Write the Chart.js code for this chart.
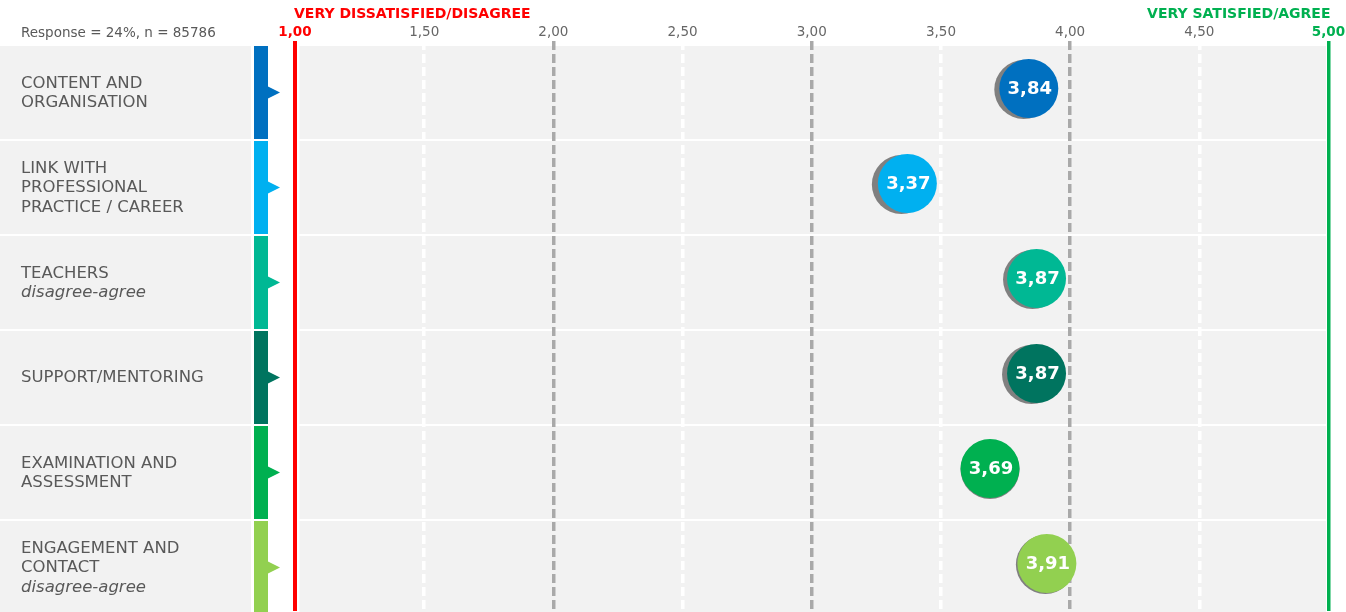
<!DOCTYPE html>
<html><head><meta charset="utf-8">
<script src="https://cdn.jsdelivr.net/npm/chart.js@4/dist/chart.umd.min.js"></script>
<style>html,body{margin:0;padding:0;background:#fff;overflow:hidden}#wrap{width:1346px;height:612px;position:relative}</style>
</head><body><div id="wrap"><canvas id="c" width="1346" height="612"></canvas></div>
<script>
// ---- data ----
const categories = ['CONTENT AND ORGANISATION', 'LINK WITH PROFESSIONAL PRACTICE / CAREER', 'TEACHERS', 'SUPPORT/MENTORING', 'EXAMINATION AND ASSESSMENT', 'ENGAGEMENT AND CONTACT'];
const labelLines = [['CONTENT AND', 'ORGANISATION'], ['LINK WITH', 'PROFESSIONAL', 'PRACTICE / CAREER'], ['TEACHERS'], ['SUPPORT/MENTORING'], ['EXAMINATION AND', 'ASSESSMENT'], ['ENGAGEMENT AND', 'CONTACT']];
const subLabels = ['', '', 'disagree-agree', '', '', 'disagree-agree'];
const scores = [3.84, 3.37, 3.87, 3.87, 3.69, 3.91];
const scaleMin = 1, scaleMax = 5, scaleStep = 0.5;
const leftTitle = 'VERY DISSATISFIED/DISAGREE';
const rightTitle = 'VERY SATISFIED/AGREE';
const responseNote = 'Response = 24%, n = 85786';

// ---- styles ----
const rowColors = ['#0070c0', '#00b0f0', '#00b894', '#00745f', '#00b050', '#92d050'];
const shadowDx = [-5, -6, -4, -5, 0, -1.5];
const FONT = "'DejaVu Sans', Verdana, sans-serif";
const TEXT = '#595959';
const RED = '#ff0000', GREEN = '#00b050';
const fmt = v => v.toFixed(2).replace('.', ',');

const decor = {
  id: 'decor',
  beforeDraw(chart) {
    const {ctx, scales: {x, y}} = chart;
    ctx.save();
    categories.forEach((c, i) => {
      const cy = y.getPixelForValue(i) + 4;
      const top = cy - 46.5, h = 93;
      ctx.fillStyle = '#f2f2f2';
      ctx.fillRect(0, top, 251, h);
      ctx.fillRect(x.left + 4.5, top, (x.right - 2.5) - (x.left + 4.5), h);
      ctx.fillStyle = rowColors[i];
      ctx.fillRect(254, top, 14, h);
      ctx.beginPath();
      ctx.moveTo(268, cy - 6);
      ctx.lineTo(280, cy);
      ctx.lineTo(268, cy + 6);
      ctx.closePath();
      ctx.fill();
      // labels
      const lines = labelLines[i].map(t => ({t, it: false}));
      if (subLabels[i]) lines.push({t: subLabels[i], it: true});
      const lh = 19.5;
      let ly = cy + 0.5 - (lines.length - 1) * lh / 2;
      ctx.fillStyle = TEXT;
      ctx.textAlign = 'left';
      ctx.textBaseline = 'middle';
      lines.forEach(l => {
        ctx.font = (l.it ? 'italic ' : '') + '16.5px ' + FONT;
        ctx.fillText(l.t, 21, ly);
        ly += lh;
      });
    });
    // titles
    ctx.font = 'bold 14px ' + FONT;
    ctx.textBaseline = 'middle';
    ctx.fillStyle = RED;
    ctx.textAlign = 'left';
    ctx.fillText(leftTitle, x.getPixelForValue(scaleMin) - 1, 14);
    ctx.fillStyle = GREEN;
    ctx.textAlign = 'right';
    ctx.fillText(rightTitle, x.getPixelForValue(scaleMax) + 2, 14);
    ctx.font = '13.5px ' + FONT;
    ctx.fillStyle = TEXT;
    ctx.textAlign = 'left';
    ctx.fillText(responseNote, 21, 33);
    ctx.restore();
  },
  beforeDatasetsDraw(chart) {
    const {ctx} = chart;
    const meta = chart.getDatasetMeta(0);
    ctx.save();
    ctx.fillStyle = '#808080';
    meta.data.forEach((el, i) => {
      const r = el.options.radius;
      ctx.beginPath();
      ctx.arc(el.x + shadowDx[i], el.y + 1, r, 0, Math.PI * 2);
      ctx.fill();
    });
    ctx.restore();
  },
  afterDatasetsDraw(chart) {
    const {ctx} = chart;
    const meta = chart.getDatasetMeta(0);
    ctx.save();
    ctx.font = 'bold 18px ' + FONT;
    ctx.fillStyle = '#ffffff';
    ctx.textAlign = 'center';
    ctx.textBaseline = 'middle';
    meta.data.forEach((el, i) => {
      ctx.fillText(fmt(scores[i]), el.x + 1, el.y + 1);
    });
    ctx.restore();
  }
};

const isEnd = v => v === scaleMin || v === scaleMax;

new Chart(document.getElementById('c'), {
  type: 'bubble',
  data: {
    labels: categories,
    datasets: [{
      data: scores.map((v, i) => ({x: v, y: categories[i]})),
      backgroundColor: rowColors,
      hoverBackgroundColor: rowColors,
      borderWidth: 0,
      hoverBorderWidth: 0,
      radius: 29.5,
      hoverRadius: 0,
      clip: false
    }]
  },
  options: {
    responsive: false,
    animation: false,
    events: [],
    layout: {autoPadding: false, padding: {left: 295, right: 17.5, top: 0, bottom: 1}},
    plugins: {legend: {display: false}, tooltip: {enabled: false}},
    scales: {
      x: {
        type: 'linear',
        position: 'top',
        min: scaleMin,
        max: scaleMax,
        afterFit(axis) { axis.height = 41; },
        ticks: {
          stepSize: scaleStep,
          autoSkip: false,
          maxRotation: 0,
          padding: 0,
          callback: v => fmt(v),
          color: c => c.tick && c.tick.value === scaleMin ? RED : (c.tick && c.tick.value === scaleMax ? GREEN : '#666666'),
          font: c => ({family: FONT, size: 13.5, weight: c.tick && isEnd(c.tick.value) ? 'bold' : 'normal'})
        },
        grid: {
          drawTicks: false,
          color: c => {
            const v = c.tick ? c.tick.value : 0;
            if (v === scaleMin) return RED;
            if (v === scaleMax) return GREEN;
            return Number.isInteger(v) ? '#a9a9a9' : '#ffffff';
          },
          lineWidth: c => {
            const v = c.tick ? c.tick.value : 0;
            if (v === scaleMin) return 4;
            if (v === scaleMax) return 3.5;
            return 3.5;
          }
        },
        border: {
          display: false,
          dash: c => (c.tick && isEnd(c.tick.value)) ? [] : [9, 4]
        }
      },
      y: {
        type: 'category',
        display: false,
        offset: true,
        grid: {display: false}
      }
    }
  },
  plugins: [decor]
});
</script>
</body></html>
